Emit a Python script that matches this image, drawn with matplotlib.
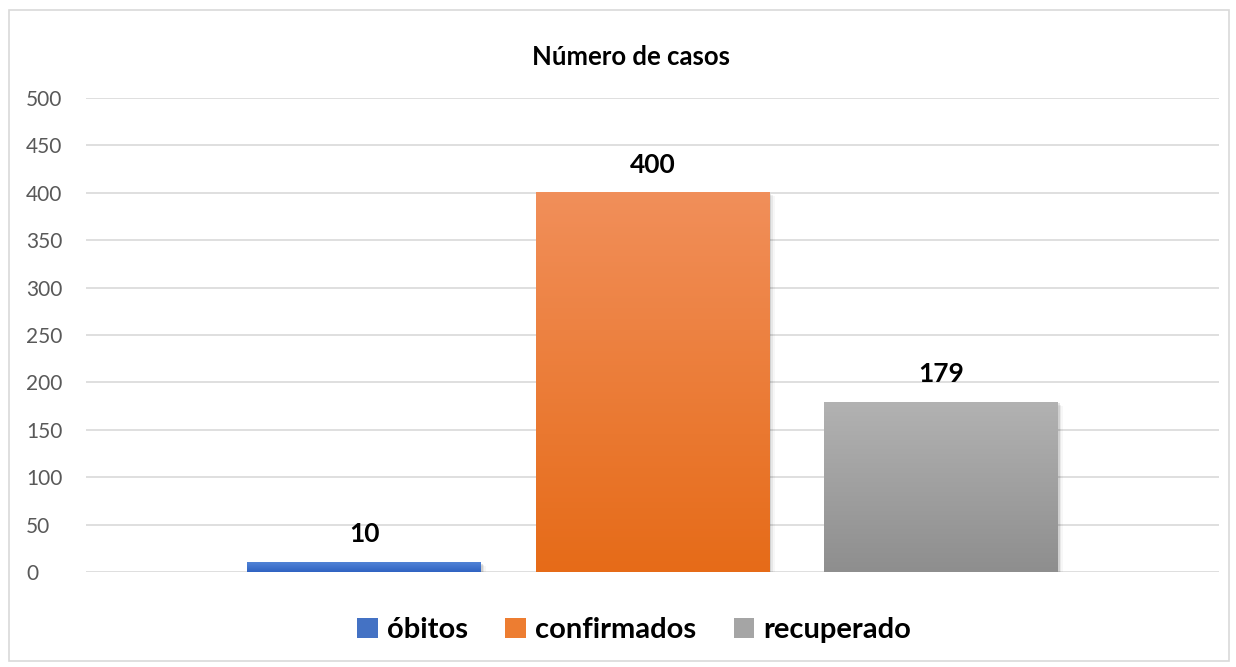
import numpy as np
import matplotlib
matplotlib.use("Agg")
import matplotlib.pyplot as plt
from matplotlib.patches import Patch, Rectangle
from matplotlib.colors import LinearSegmentedColormap
import matplotlib.transforms as mtrans

plt.rcParams['font.family'] = ['Lato', 'DejaVu Sans']

title = "Número de casos"
series = ["óbitos", "confirmados", "recuperado"]
values = [10, 400, 179]
top_colors = ["#5183D6", "#F18F5A", "#B2B2B2"]
bottom_colors = ["#2F63C2", "#E66B18", "#8E8E8E"]
legend_colors = ["#4472C4", "#ED7D31", "#A5A5A5"]
yticks = [0, 50, 100, 150, 200, 250, 300, 350, 400, 450, 500]

fig = plt.figure(figsize=(12.36, 6.67), dpi=100)
ax = fig.add_axes([86/1236, 1-572/667, (1219-86)/1236, (572-98)/667])

positions = [-1, 0, 1]
width = 0.811
for x, v, ct, cb in zip(positions, values, top_colors, bottom_colors):
    # soft shadow
    for k, a in enumerate([0.10, 0.06, 0.03]):
        off = 0.006 * (k + 1)
        ax.add_patch(Rectangle((x - width/2 + off, -1.2 * (k + 1)), width, v,
                               facecolor='#000000', alpha=a, edgecolor='none', zorder=2))
    cmap = LinearSegmentedColormap.from_list('g', [cb, ct])
    grad = np.linspace(0, 1, 256).reshape(-1, 1)
    ax.imshow(grad, cmap=cmap, origin='lower', aspect='auto',
              extent=[x - width/2, x + width/2, 0, v], zorder=3)
    ax.text(x, v + 17, str(v), ha='center', va='bottom', fontsize=19,
            fontweight='bold', color='black', zorder=4)

ax.set_xlim(-1.964, 1.964)
ax.set_ylim(0, 500)
ax.set_yticks(yticks)
ax.set_xticks([])
ax.grid(axis='y', color='#D9D9D9', linewidth=1.2, zorder=0)
ax.set_axisbelow(True)
for s in ax.spines.values():
    s.set_visible(False)
ax.tick_params(axis='y', length=0, labelsize=15, labelcolor='#595959', pad=0)
for lbl in ax.get_yticklabels():
    lbl.set_horizontalalignment('left')
    lbl.set_transform(lbl.get_transform() +
                      mtrans.ScaledTranslation(-60/100, 0, fig.dpi_scale_trans))

fig.text(631/1236, 1-57/667, title, ha='center', va='center', fontsize=18.5,
         fontweight='bold', color='black')

handles = [Patch(facecolor=c, edgecolor='none') for c in legend_colors]
leg = fig.legend(handles, series, loc='center', bbox_to_anchor=(634/1236, 1-630/667),
                 ncol=3, frameon=False, handlelength=0.7, handleheight=0.7,
                 handletextpad=0.3, columnspacing=1.3,
                 prop={'size': 21, 'weight': 'bold'})

fig.add_artist(Rectangle((9/1236, 1-661/667), (1229-9)/1236, (661-10)/667,
                         transform=fig.transFigure, fill=False,
                         edgecolor='#D9D9D9', linewidth=1.2))

fig.savefig("out.png", dpi=100, facecolor='white')
